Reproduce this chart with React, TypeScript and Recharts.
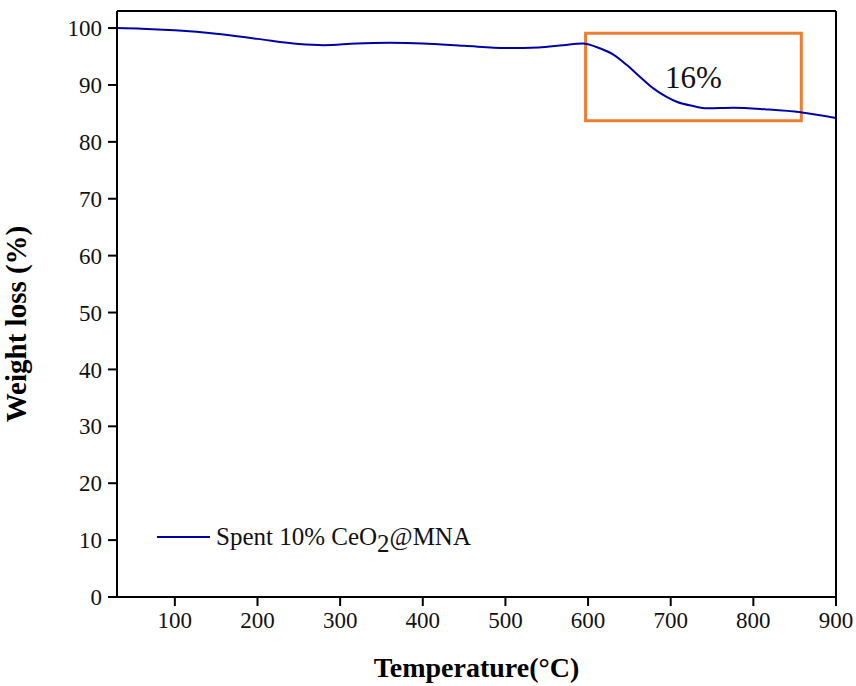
import { LineChart, Line, XAxis, YAxis, ReferenceArea, ReferenceLine } from "recharts";

const temps = [30, 60, 100, 150, 200, 250, 280, 320, 360, 400, 450, 500, 540, 570, 593, 615, 631, 647, 663, 679, 695, 708, 727, 744, 776, 816, 857, 900];
const weights = [100.0, 99.9, 99.6, 99.0, 98.1, 97.2, 97.0, 97.3, 97.4, 97.3, 96.9, 96.5, 96.6, 97.0, 97.3, 96.4, 95.3, 93.5, 91.4, 89.4, 87.9, 87.0, 86.3, 85.9, 86.0, 85.7, 85.2, 84.2];
const xTicks = [100, 200, 300, 400, 500, 600, 700, 800, 900];
const yTicks = [0, 10, 20, 30, 40, 50, 60, 70, 80, 90, 100];
const seriesName = "Spent 10% CeO2@MNA";
const boxX = [597, 858];
const boxY = [83.7, 99.1];
const boxLabel = "16%";

const data = temps.map((t, i) => ({ t, w: weights[i] }));

const FONT = "'Liberation Serif', 'Times New Roman', serif";
const LINE_COLOR = "#0000a8";

export default function App() {
  return (
    <div style={{ position: "absolute", left: 0, top: 0, background: "#fff", width: 856, height: 686 }}>
      <LineChart width={856} height={686} data={data} margin={{ top: 11, right: 20, bottom: 0, left: 0 }}>
        <XAxis
          dataKey="t"
          type="number"
          domain={[30, 900]}
          ticks={xTicks}
          allowDataOverflow
          height={89}
          tickSize={9}
          tickMargin={6}
          stroke="#000"
          strokeWidth={2}
          tick={{ fill: "#111", fontSize: 23, fontFamily: FONT }}
          label={{ value: "Temperature(°C)", position: "insideBottom", offset: 9, fill: "#000", fontSize: 28, fontWeight: "bold", fontFamily: FONT }}
        />
        <YAxis
          type="number"
          domain={[0, 103]}
          ticks={yTicks}
          allowDataOverflow
          width={117}
          tickSize={9}
          tickMargin={6}
          stroke="#000"
          strokeWidth={2}
          tick={{ fill: "#111", fontSize: 23, fontFamily: FONT }}
          label={{ value: "Weight loss (%)", angle: -90, position: "insideLeft", offset: 16, dy: 20, fill: "#000", fontSize: 29, fontWeight: "bold", fontFamily: FONT, style: { textAnchor: "middle" } }}
        />
        <ReferenceLine y={103} stroke="#000" strokeWidth={2} />
        <ReferenceLine x={900} stroke="#000" strokeWidth={2} />
        <ReferenceArea
          x1={boxX[0]}
          x2={boxX[1]}
          y1={boxY[0]}
          y2={boxY[1]}
          fill="none"
          fillOpacity={0}
          stroke="#ed7d31"
          strokeWidth={3}
          strokeOpacity={1}
          ifOverflow="visible"
          label={{ value: boxLabel, position: "center", fill: "#111", fontSize: 31, fontFamily: FONT }}
        />
        <Line
          type="monotone"
          dataKey="w"
          name={seriesName}
          stroke={LINE_COLOR}
          strokeWidth={2}
          dot={false}
          isAnimationActive={false}
        />
      </LineChart>
      <div
        style={{
          position: "absolute",
          left: 157,
          top: 523,
          display: "flex",
          alignItems: "center",
          fontFamily: FONT,
          fontSize: 25,
          color: "#111",
          whiteSpace: "nowrap",
        }}
      >
        <span style={{ display: "inline-block", width: 53, height: 2, background: LINE_COLOR, marginRight: 6 }} />
        <span>
          Spent 10% CeO<sub style={{ fontSize: 25, verticalAlign: -7, lineHeight: 0 }}>2</sub>@MNA
        </span>
      </div>
    </div>
  );
}
